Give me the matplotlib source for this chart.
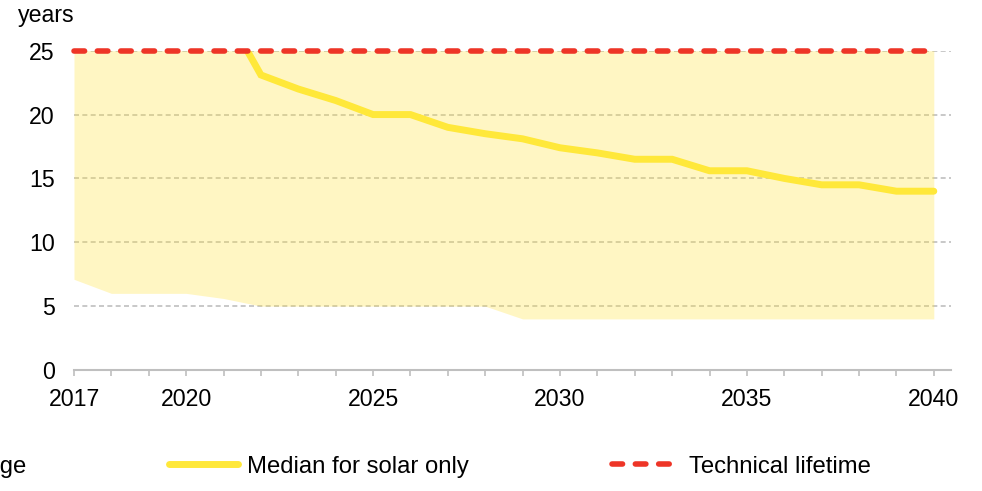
import numpy as np
import matplotlib
matplotlib.use('Agg')
import matplotlib.pyplot as plt
from matplotlib.patches import Patch
from matplotlib.lines import Line2D

# data
years = list(range(2017, 2041))
range_low = [7.1, 6.0, 6.0, 6.0, 5.6, 5.0, 5.0, 5.0, 5.0, 5.0, 5.0, 5.0,
             4.0, 4.0, 4.0, 4.0, 4.0, 4.0, 4.0, 4.0, 4.0, 4.0, 4.0, 4.0]
range_high = [25] * 24
median_solar = [30, 30, 30, 30, 28.3, 23.1, 22.0, 21.1, 20.0, 20.0, 19.0, 18.5,
                18.1, 17.4, 17.0, 16.5, 16.5, 15.6, 15.6, 15.0, 14.5, 14.5, 14.0, 14.0]
tech_life = [25] * 24
year_labels = [2017, 2020, 2025, 2030, 2035, 2040]
y_ticks = [0, 5, 10, 15, 20, 25]

plt.rcParams['font.family'] = ['Liberation Sans', 'DejaVu Sans']
fs = 16.7      # tick labels
fs_leg = 17.2  # legend

fill_col = '#FFE23A'
median_col = '#FFE83A'
red_col = '#EE3527'
grey = '#BFBFBF'

fig = plt.figure(figsize=(9.82, 4.91), dpi=100)
ax = fig.add_axes([74 / 982, 121 / 491, 877 / 982, 319.3 / 491])

# range area
ax.fill_between(years, range_low, range_high, color=fill_col, alpha=0.3,
                lw=0, zorder=2)
# median line
ax.plot(years, median_solar, color=median_col, lw=5, solid_capstyle='round',
        solid_joinstyle='miter', zorder=3)
# technical lifetime
ax.plot(years, tech_life, color=red_col, lw=4, dashes=(1.9, 2.3),
        dash_capstyle='round', clip_on=False, zorder=4)

ax.set_xlim(2017, 2040.46)
ax.set_ylim(0, 25)

ax.set_xticks(year_labels)
ax.set_xticklabels([str(y) for y in year_labels])
ax.set_xticks(years, minor=True)
ax.set_yticks(y_ticks)

ax.tick_params(axis='x', which='both', direction='out', length=4, width=1.2,
               color=grey, labelsize=fs, pad=9)
ax.tick_params(axis='y', length=0, labelsize=fs, pad=14)

for s in ['top', 'right', 'left']:
    ax.spines[s].set_visible(False)
ax.spines['bottom'].set_color(grey)
ax.spines['bottom'].set_linewidth(1.5)

ax.set_axisbelow(True)
ax.yaxis.grid(True, color=grey, lw=1.2, linestyle=(0, (3, 2)))

fig.text(18 / 982, 1 - 22 / 491, 'years', fontsize=fs, va='baseline', ha='left')

# legend along the bottom (first entry runs off the left edge, as in the original)
handles = [Patch(facecolor=fill_col, alpha=0.3, edgecolor='none'),
           Line2D([], [], color=median_col, lw=5, solid_capstyle='round'),
           Line2D([], [], color=red_col, lw=4, dashes=(1.9, 2.3),
                  dash_capstyle='round')]
labels = ['Range', 'Median for solar only', 'Technical lifetime']
fig.legend(handles, labels, ncol=3, loc='lower left',
           bbox_to_anchor=(-0.1357, 0.003), frameon=False, borderpad=0,
           fontsize=fs_leg, handlelength=2.85, handletextpad=0.38,
           columnspacing=6.0)

fig.savefig('out.png', dpi=100)
